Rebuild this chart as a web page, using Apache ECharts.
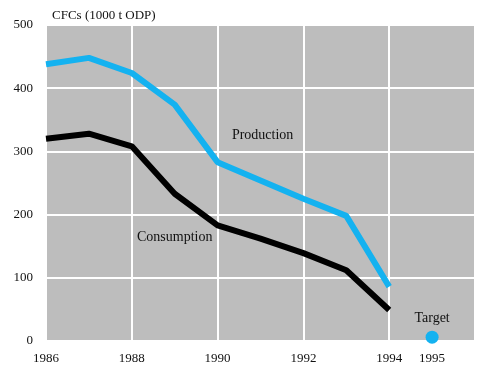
<!DOCTYPE html>
<html>
<head>
<meta charset="utf-8">
<script src="https://cdn.jsdelivr.net/npm/echarts@6/dist/echarts.min.js"></script>
<style>
  html, body { margin: 0; padding: 0; background: #fff; }
  #chart { width: 485px; height: 376px; }
</style>
</head>
<body>
<div id="chart"></div>
<script>
// years and values (1000 t ODP)
var years = [1986, 1987, 1988, 1989, 1990, 1991, 1992, 1993, 1994]
var production = [438, 448, 424, 374, 283, 254, 225, 198, 86]
var consumption = [320, 328, 308, 233, 183, 162, 139, 112, 49]
var target = [[1995, 6]]
var xLabels = [1986, 1988, 1990, 1992, 1994, 1995]
var yTicks = [0, 100, 200, 300, 400, 500]

var serif = 'Liberation Serif'

function pairs(vals) {
  return years.map(function (y, i) { return [y, vals[i]] })
}

var chart = echarts.init(document.getElementById('chart'))
chart.setOption({
  backgroundColor: '#fff',
  animation: false,
  title: {
    text: 'CFCs (1000 t ODP)',
    left: 47, top: 4,
    textStyle: { fontFamily: serif, fontSize: 13, fontWeight: 'normal', color: '#111' }
  },
  grid: {
    left: 46, right: 10, top: 25, bottom: 35,
    show: true, backgroundColor: '#bdbdbd', borderWidth: 0
  },
  xAxis: {
    type: 'value', min: 1986, max: 1996, interval: 2,
    axisLine: { show: false },
    axisTick: { show: false },
    axisLabel: {
      customValues: xLabels,
      formatter: function (v) { return String(v) },
      margin: 11,
      fontFamily: serif, fontSize: 13, color: '#111'
    },
    splitLine: { show: true, lineStyle: { color: '#fff', width: 2 } }
  },
  yAxis: {
    type: 'value', min: yTicks[0], max: yTicks[yTicks.length - 1], interval: 100,
    axisLine: { show: false },
    axisTick: { show: false },
    axisLabel: { margin: 13, fontFamily: serif, fontSize: 13, color: '#111' },
    splitLine: { show: true, lineStyle: { color: '#fff', width: 2 } }
  },
  series: [
    {
      name: 'Production', type: 'line', data: pairs(production),
      symbol: 'none', lineStyle: { color: '#14b2f0', width: 6 },
      markPoint: {
        symbolSize: 0,
        label: { show: true, formatter: 'Production', fontFamily: serif, fontSize: 14, color: '#111' },
        data: [{ coord: [1991.05, 325] }]
      }
    },
    {
      name: 'Consumption', type: 'line', data: pairs(consumption),
      symbol: 'none', lineStyle: { color: '#000', width: 6 },
      markPoint: {
        symbolSize: 0,
        label: { show: true, formatter: 'Consumption', fontFamily: serif, fontSize: 14, color: '#111' },
        data: [{ coord: [1989.0, 164] }]
      }
    },
    {
      name: 'Target', type: 'scatter', data: target,
      symbolSize: 13, itemStyle: { color: '#14b2f0', opacity: 1 },
      label: {
        show: true, position: 'top', distance: 5, formatter: 'Target',
        fontFamily: serif, fontSize: 14, color: '#111', opacity: 1
      }
    }
  ]
})
</script>
</body>
</html>
